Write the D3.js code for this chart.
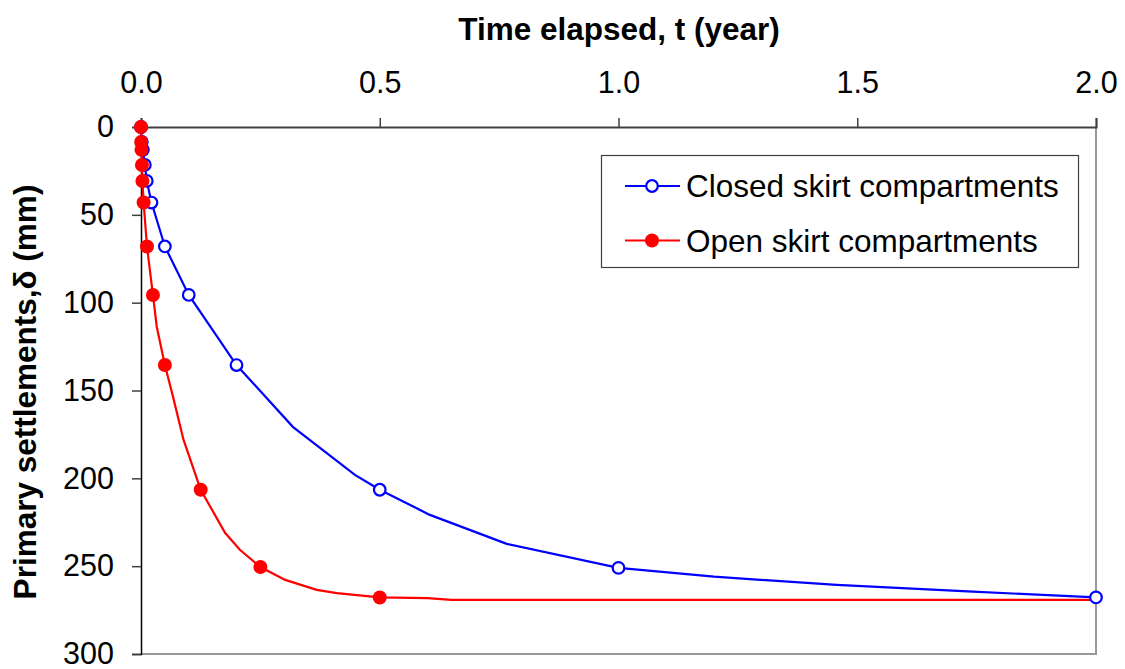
<!DOCTYPE html>
<html>
<head>
<meta charset="utf-8">
<script src="https://cdn.jsdelivr.net/npm/d3@7"></script>
<style>
  body { margin: 0; background: #fff; }
  text { font-family: "Liberation Sans", Arial, sans-serif; fill: #000; }
</style>
</head>
<body>
<div id="chart"></div>
<script>
// marker points (time in years, settlement in mm)
const closedT = [0, 0.0016, 0.004, 0.008, 0.012, 0.022, 0.05, 0.1, 0.2, 0.5, 1.0, 2.0];
const closedD = [0, 8.5, 13, 21.6, 30.7, 43, 68, 95.6, 135.5, 206.5, 251, 267.8];
const openT = [0, 0.0004, 0.001, 0.002, 0.003, 0.0055, 0.0125, 0.025, 0.05, 0.125, 0.25, 0.5];
const openD = [0, 8.5, 13, 21.6, 30.7, 43, 68, 95.6, 135.5, 206.5, 250.5, 267.8];

// curve points (markers plus the intermediate points of the lines)
const closedLineT = [0, 0.0016, 0.004, 0.008, 0.012, 0.022, 0.05, 0.1, 0.2, 0.318, 0.448, 0.5, 0.605, 0.766, 1.0, 1.2, 1.457, 1.742, 2.0];
const closedLineD = [0, 8.5, 13, 21.6, 30.7, 43, 68, 95.6, 135.5, 170.7, 198, 206.5, 220.8, 237.3, 251, 256, 260.7, 264.5, 267.8];
const openLineT = [0, 0.0004, 0.001, 0.002, 0.003, 0.0055, 0.0125, 0.025, 0.033, 0.05, 0.067, 0.089, 0.125, 0.176, 0.207, 0.25, 0.302, 0.368, 0.41, 0.5, 0.6, 0.65, 2.01];
const openLineD = [0, 8.5, 13, 21.6, 30.7, 43, 68, 95.6, 113.7, 135.5, 153.5, 178, 206.5, 231, 240.7, 250.5, 257.8, 263.5, 265.3, 267.8, 268.2, 269.2, 269.2];

const xTicks = [0, 0.5, 1.0, 1.5, 2.0];
const yTicks = [0, 50, 100, 150, 200, 250, 300];
const seriesNames = ["Closed skirt compartments", "Open skirt compartments"];

const width = 1125, height = 669;
const margin = { top: 127, right: 29, bottom: 15, left: 141 };

const svg = d3.select("#chart")
    .append("svg")
    .attr("width", width)
    .attr("height", height);

const x = d3.scaleLinear()
    .domain([0, 2])
    .range([margin.left, width - margin.right]);

const y = d3.scaleLinear()
    .domain([0, 300])
    .range([margin.top, height - margin.bottom]);

// right and bottom frame
svg.append("path")
    .attr("d", `M${x(0)},${y(300)}H${x(2)}V${y(0)}`)
    .attr("fill", "none")
    .attr("stroke", "#999")
    .attr("stroke-width", 2);

// top axis
const gx = svg.append("g")
    .attr("transform", `translate(0,${y(0)})`)
    .call(d3.axisTop(x).tickValues(xTicks).tickFormat(d3.format(".1f")).tickSize(9).tickPadding(25));
gx.select(".domain").attr("stroke", "#404040").attr("stroke-width", 2);
gx.selectAll(".tick line").attr("stroke", "#404040").attr("stroke-width", 1.5);
gx.selectAll("text").style("font-size", "30.5px");

// left axis
const gy = svg.append("g")
    .attr("transform", `translate(${x(0)},0)`)
    .call(d3.axisLeft(y).tickValues(yTicks).tickSize(9).tickPadding(18));
gy.select(".domain").attr("stroke", "#000").attr("stroke-width", 1.5);
gy.selectAll(".tick line").attr("stroke", "#404040").attr("stroke-width", 1.5);
gy.selectAll("text").style("font-size", "30.5px");

// titles
svg.append("text")
    .attr("text-anchor", "middle")
    .attr("x", 619)
    .attr("y", 40)
    .style("font-size", "31.5px")
    .style("font-weight", "bold")
    .text("Time elapsed, t (year)");

svg.append("text")
    .attr("text-anchor", "middle")
    .attr("transform", "rotate(-90)")
    .attr("x", -392)
    .attr("y", 36)
    .style("font-size", "31.5px")
    .style("font-weight", "bold")
    .text("Primary settlements,δ (mm)");

const line = d3.line()
    .x(d => x(d[0]))
    .y(d => y(d[1]));

const closedLine = d3.zip(closedLineT, closedLineD);
const openLine = d3.zip(openLineT, openLineD);
const closedPts = d3.zip(closedT, closedD);
const openPts = d3.zip(openT, openD);

svg.append("path")
    .datum(closedLine)
    .attr("d", line)
    .attr("fill", "none")
    .attr("stroke", "#0000ff")
    .attr("stroke-width", 2.2);

svg.append("path")
    .datum(openLine)
    .attr("d", line)
    .attr("fill", "none")
    .attr("stroke", "#ff0000")
    .attr("stroke-width", 2.2);

svg.selectAll(".closedPt")
    .data(closedPts)
    .enter()
    .append("circle")
    .attr("cx", d => x(d[0]))
    .attr("cy", d => y(d[1]))
    .attr("r", 5.8)
    .attr("fill", "#fff")
    .attr("stroke", "#0000ff")
    .attr("stroke-width", 2.2);

svg.selectAll(".openPt")
    .data(openPts)
    .enter()
    .append("circle")
    .attr("cx", d => x(d[0]))
    .attr("cy", d => y(d[1]))
    .attr("r", 7)
    .attr("fill", "#ff0000");

// legend
const legend = svg.append("g");
legend.append("rect")
    .attr("x", 601.5)
    .attr("y", 155.5)
    .attr("width", 477)
    .attr("height", 112)
    .attr("fill", "#fff")
    .attr("stroke", "#404040")
    .attr("stroke-width", 1.2);

const colors = ["#0000ff", "#ff0000"];
seriesNames.forEach((name, i) => {
    const ly = 186 + i * 54.5;
    legend.append("line")
        .attr("x1", 625).attr("x2", 680)
        .attr("y1", ly).attr("y2", ly)
        .attr("stroke", colors[i])
        .attr("stroke-width", 2.2);
    legend.append("circle")
        .attr("cx", 652)
        .attr("cy", ly)
        .attr("r", i === 0 ? 5.8 : 7)
        .attr("fill", i === 0 ? "#fff" : colors[i])
        .attr("stroke", i === 0 ? colors[i] : "none")
        .attr("stroke-width", 2.2);
    legend.append("text")
        .attr("x", 686)
        .attr("y", ly + 11)
        .style("font-size", "31.5px")
        .text(name);
});
</script>
</body>
</html>
